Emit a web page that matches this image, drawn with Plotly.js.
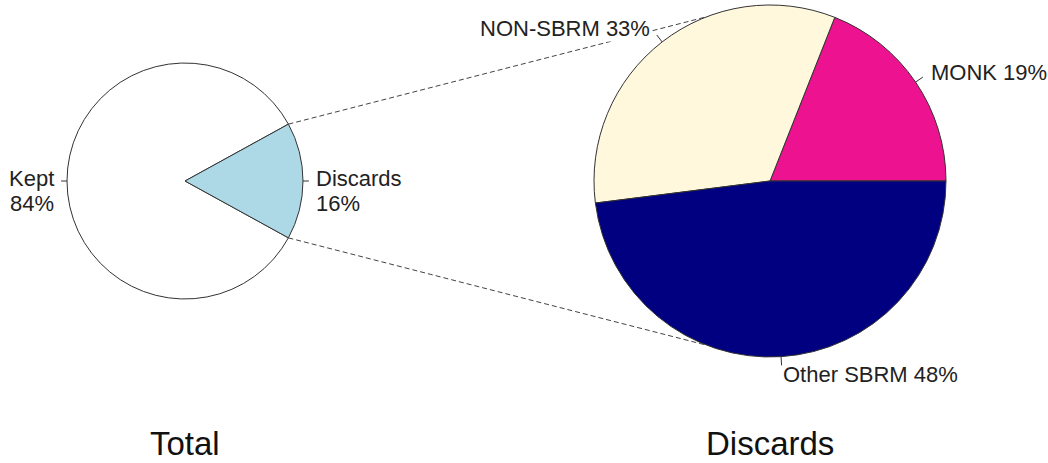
<!DOCTYPE html>
<html>
<head>
<meta charset="utf-8">
<script src="https://cdn.plot.ly/plotly-3.0.1.min.js"></script>
<style>html,body{margin:0;padding:0;background:#fff;}#chart{width:1048px;height:463px;}</style>
</head>
<body>
<div id="chart"></div>
<script>
// ---- data ----
const totalLabels = ['Kept', 'Discards'];
const totalValues = [84, 16];
const discardLabels = ['MONK', 'NON-SBRM', 'Other SBRM'];
const discardValues = [19, 33, 48];
const chartTitles = ['Total', 'Discards'];

// ---- styles / layout ----
const W = 1048, H = 463;
const FONT = 'Liberation Sans, Arial, sans-serif';
const totalColors = ['#FFFFFF', '#ADD8E6'];
const discardColors = ['#EC1290', '#FFF8DC', '#000080'];
const leftPie = {cx: 185, cy: 181, r: 118};
const rightPie = {cx: 770, cy: 181, r: 176};
const connectorAngle = 111;   // degrees on the right pie where the dashed lines end
const edge = '#333';

const px = x => x / W;
const py = y => 1 - y / H;
const sum = a => a.reduce((s, v) => s + v, 0);

// start angle (math degrees, ccw from east) for the left pie so the 'Discards' slice is centred at east
const dIdx = totalLabels.indexOf('Discards');
const before = sum(totalValues.slice(0, dIdx));
const leftStart = -((before + totalValues[dIdx] / 2) / sum(totalValues)) * 360;
const rightStart = 0;

// Plotly (counterclockwise): first slice lies clockwise of `rotation`, the rest run counterclockwise.
function plotlyRotation(values, startMath) {
  const a1 = values[0] / sum(values) * 360;
  let r = 90 - startMath - a1;
  while (r > 360) r -= 360;
  while (r < -360) r += 360;
  return r;
}

function domainOf(p) {
  return {x: [px(p.cx - p.r), px(p.cx + p.r)], y: [py(p.cy + p.r), py(p.cy - p.r)]};
}

const traces = [
  {
    type: 'pie', labels: totalLabels, values: totalValues, sort: false,
    direction: 'counterclockwise', rotation: plotlyRotation(totalValues, leftStart),
    marker: {colors: totalColors, line: {color: edge, width: 1}},
    textinfo: 'none', hoverinfo: 'none', showlegend: false,
    domain: domainOf(leftPie)
  },
  {
    type: 'pie', labels: discardLabels, values: discardValues, sort: false,
    direction: 'counterclockwise', rotation: plotlyRotation(discardValues, rightStart),
    marker: {colors: discardColors, line: {color: edge, width: 1}},
    textinfo: 'none', hoverinfo: 'none', showlegend: false,
    domain: domainOf(rightPie)
  }
];

const shapes = [];
const annotations = [];

function sliceMids(values, start) {
  const t = sum(values);
  let c = 0;
  return values.map(v => { const m = start + (c + v / 2) / t * 360; c += v; return m; });
}

function addLabels(labels, values, start, p, twoLine) {
  const t = sum(values);
  const mids = sliceMids(values, start);
  mids.forEach((deg, i) => {
    const a = deg * Math.PI / 180;
    const ca = Math.cos(a), sa = Math.sin(a);
    shapes.push({type: 'line', xref: 'paper', yref: 'paper',
      x0: px(p.cx + p.r * ca), y0: py(p.cy - p.r * sa),
      x1: px(p.cx + 1.05 * p.r * ca), y1: py(p.cy - 1.05 * p.r * sa),
      line: {color: edge, width: 1}});
    const lx = p.cx + 1.1 * p.r * ca, ly = p.cy - 1.1 * p.r * sa;
    const pct = Math.round(values[i] / t * 100) + '%';
    const anchor = ca >= 0 ? 'left' : 'right';
    const base = {xref: 'paper', yref: 'paper', showarrow: false, xanchor: anchor,
      yanchor: 'middle', align: anchor, font: {family: FONT, size: 22, color: '#222'},
      borderpad: 0};
    if (twoLine) {
      annotations.push(Object.assign({}, base, {x: px(lx), y: py(ly - 3), text: labels[i]}));
      annotations.push(Object.assign({}, base, {x: px(lx), y: py(ly + 22), text: pct}));
    } else {
      annotations.push(Object.assign({}, base, {x: px(lx), y: py(ly), text: labels[i] + ' ' + pct,
        bgcolor: '#ffffff'}));
    }
  });
}

addLabels(totalLabels, totalValues, leftStart, leftPie, true);
addLabels(discardLabels, discardValues, rightStart, rightPie, false);

// dashed connector lines from the edges of the Discards slice to the right pie
const half = totalValues[dIdx] / sum(totalValues) * 180;
[1, -1].forEach(s => {
  const a0 = s * half * Math.PI / 180;
  const a1 = s * connectorAngle * Math.PI / 180;
  shapes.push({type: 'line', xref: 'paper', yref: 'paper', layer: 'above',
    x0: px(leftPie.cx + leftPie.r * Math.cos(a0)), y0: py(leftPie.cy - leftPie.r * Math.sin(a0)),
    x1: px(rightPie.cx + rightPie.r * Math.cos(a1)), y1: py(rightPie.cy - rightPie.r * Math.sin(a1)),
    line: {color: '#444', width: 1, dash: '5px,3px'}});
});

// titles under each pie
[leftPie, rightPie].forEach((p, i) => {
  annotations.push({xref: 'paper', yref: 'paper', x: px(p.cx), y: py(443.5), showarrow: false,
    xanchor: 'center', yanchor: 'middle', text: chartTitles[i],
    font: {family: FONT, size: 33, color: '#111'}});
});

const layout = {
  width: W, height: H,
  margin: {l: 0, r: 0, t: 0, b: 0, pad: 0},
  paper_bgcolor: '#fff', plot_bgcolor: '#fff',
  showlegend: false,
  shapes: shapes,
  annotations: annotations
};

Plotly.newPlot('chart', traces, layout, {staticPlot: true, displayModeBar: false});
</script>
</body>
</html>
